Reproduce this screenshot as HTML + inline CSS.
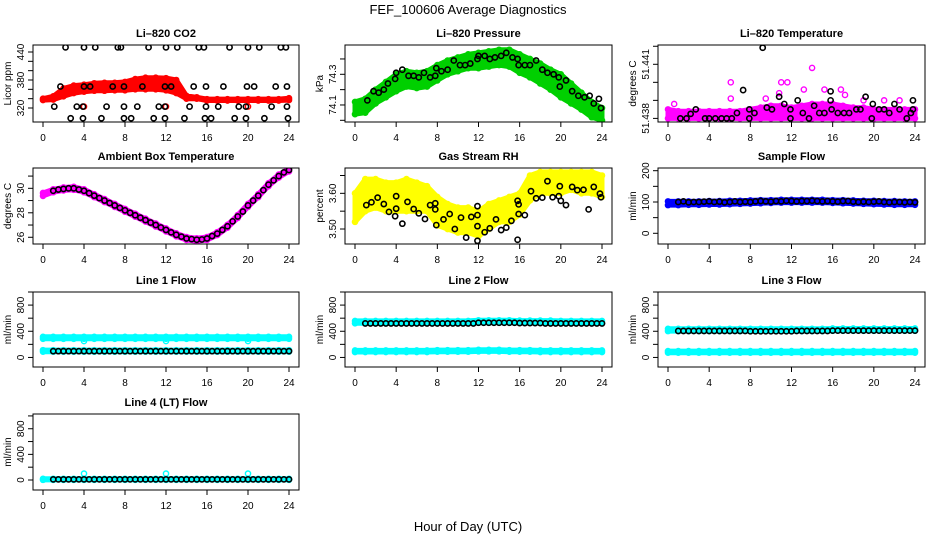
<!DOCTYPE html>
<html><head><meta charset="utf-8"><style>
html,body{margin:0;padding:0;background:#fff;width:936px;height:540px;overflow:hidden}
svg{display:block;font-family:"Liberation Sans",sans-serif}
</style></head><body>
<svg id="fig" width="936" height="540" viewBox="0 0 936 540">
<text x="468" y="14" text-anchor="middle" font-size="13">FEF_100606  Average Diagnostics</text>
<text x="468" y="531" text-anchor="middle" font-size="13">Hour of Day (UTC)</text>
</svg>
<script>
// ---------- data ----------
const hrs=[0,1,2,3,4,5,6,7,8,9,10,11,12,13,14,15,16,17,18,19,20,21,22,23,24];
const xTicks=[0,4,8,12,16,20,24];
// CO2
const co2Lo=[337,338,345,352,355,357,357,358,358,360,360,360,358,352,340,340,336,336,336,336,336,336,336,336,337];
const co2Hi=[340,345,362,368,370,373,374,374,376,382,385,385,384,380,346,343,339,339,339,339,339,339,339,339,341];
const co2RedX=[4,12,20];
const co2RedY=[323,323,323];
const co2BlkX=[2.2,4,5.1,7.3,7.6,10.3,12,13.1,15.2,15.7,18.2,20,21.1,23.2,23.7,1.7,4,4.6,6.8,7.9,9.7,11.9,12.5,14.7,15.9,17.6,19.9,20.6,22.7,23.8,1.1,3.3,3.9,6.2,7.9,9.2,11.3,11.9,14.3,15.9,17.1,19.1,19.8,22.3,23.8,2.7,3.9,5.7,7.9,8.6,10.8,11.9,13.8,15.8,16.4,18.7,19.8,21.6,23.9];
const co2BlkY=[450,450,450,450,450,450,450,450,450,450,450,450,450,450,450,366,366,366,366,366,366,366,366,366,366,366,366,366,366,366,323,323,323,323,323,323,323,323,323,323,323,323,323,323,323,298,298,298,298,298,298,298,298,298,298,298,298,298,298];
// Pressure
const prLo=[74.04,74.05,74.11,74.15,74.19,74.22,74.21,74.22,74.26,74.30,74.32,74.34,74.34,74.35,74.36,74.35,74.31,74.28,74.24,74.20,74.15,74.11,74.07,74.02,74.00];
const prHi=[74.12,74.14,74.20,74.25,74.30,74.32,74.31,74.32,74.36,74.39,74.41,74.43,74.44,74.45,74.46,74.46,74.43,74.40,74.37,74.33,74.30,74.24,74.18,74.12,74.08];
const prBlkX=[1.2,1.8,2.3,2.8,3.2,3.9,4,4.6,5.2,5.7,6.2,6.7,7.3,7.8,7.9,8.4,9,9.6,10.2,10.7,11.2,11.9,12,12.6,13.1,13.6,14.2,14.7,15.3,15.8,15.9,16.5,17.0,17.6,18.2,18.7,19.3,19.8,19.9,20.5,21.1,21.7,22.3,22.8,23.2,23.7,23.9];
const prBlkY=[74.13,74.19,74.18,74.20,74.24,74.27,74.31,74.33,74.29,74.29,74.28,74.31,74.28,74.29,74.34,74.32,74.33,74.39,74.36,74.36,74.37,74.40,74.42,74.42,74.40,74.41,74.42,74.44,74.41,74.40,74.36,74.36,74.36,74.39,74.33,74.31,74.30,74.28,74.22,74.26,74.19,74.16,74.15,74.16,74.11,74.14,74.08];
// Li-820 temperature
const tLo=[51.4380,51.4380,51.4380,51.4380,51.4380,51.4380,51.4380,51.4380,51.4380,51.4380,51.4380,51.4380,51.4380,51.4380,51.4380,51.4380,51.4380,51.4380,51.4380,51.4380,51.4380,51.4380,51.4380,51.4380,51.4380];
const tHi=[51.4385,51.4384,51.4384,51.4384,51.4384,51.4384,51.4384,51.4384,51.4385,51.4386,51.4387,51.4387,51.4386,51.4387,51.4388,51.4388,51.4388,51.4387,51.4386,51.4386,51.4385,51.4385,51.4385,51.4385,51.4385];
const tMagX=[0.6,6.1,6.1,11,11.6,14,16.8,13.2,15.2,10.8,19,21,22.5,9.5,17.2];
const tMagY=[51.4388,51.4400,51.4391,51.4400,51.4400,51.4408,51.4396,51.4396,51.4396,51.4394,51.4390,51.4390,51.4390,51.4391,51.4393];
const tBlkX=[9.2,7.3,1.2,1.8,2.2,2.7,3.6,4,4.6,5.2,5.7,6.2,6.7,7.9,7.9,8.4,9.6,10.1,10.8,11.3,11.9,11.9,12.6,13.1,13.7,14.2,14.7,15.2,15.8,15.8,15.9,16.5,17.1,17.6,18.3,18.7,19.2,19.8,19.9,20.5,21.0,21.5,22.0,22.5,23.2,23.6,23.8,23.8];
const tBlkY=[51.44192,51.43957,51.4380,51.4380,51.43825,51.4385,51.4380,51.4380,51.4380,51.4380,51.4380,51.4380,51.4383,51.4380,51.4385,51.4383,51.4386,51.4385,51.4392,51.4388,51.4380,51.4385,51.4390,51.4383,51.4380,51.4387,51.4383,51.4383,51.4390,51.4395,51.4385,51.4383,51.4383,51.4383,51.4385,51.4385,51.4392,51.4380,51.4388,51.4385,51.4385,51.4383,51.4388,51.4385,51.4380,51.4383,51.4385,51.4390];
// Ambient box temperature
const ambCurve=[29.5,29.8,29.95,30.0,29.8,29.4,29.0,28.6,28.2,27.8,27.4,27.0,26.6,26.2,25.9,25.8,25.9,26.3,26.9,27.7,28.6,29.4,30.3,31.0,31.5];
const ambBlk=[29.8,29.9,29.95,30.0,30.0,29.9,29.8,29.6,29.4,29.2,29.0,28.8,28.6,28.4,28.2,28.0,27.8,27.6,27.4,27.2,27.0,26.8,26.6,26.4,26.2,26.05,25.9,25.85,25.8,25.82,25.9,26.1,26.3,26.6,26.9,27.3,27.7,28.1,28.6,29.0,29.4,29.85,30.3,30.65,31.0,31.3,31.5];
// Gas stream RH
const rhLo=[3.52,3.55,3.56,3.55,3.55,3.55,3.55,3.55,3.51,3.50,3.49,3.49,3.48,3.50,3.52,3.52,3.54,3.58,3.60,3.60,3.60,3.61,3.60,3.60,3.59];
const rhHi=[3.60,3.64,3.64,3.63,3.63,3.64,3.63,3.62,3.59,3.57,3.56,3.56,3.55,3.57,3.58,3.59,3.60,3.65,3.66,3.66,3.66,3.66,3.66,3.66,3.65];
const rhBlkX=[1.1,1.6,2.2,2.8,3.3,3.9,4,4,4.6,5.1,5.7,6.2,6.8,7.3,7.8,7.8,7.9,8.6,9.2,9.7,10.3,10.8,11.3,11.9,11.9,11.9,11.9,12.6,13.1,13.7,14.2,14.7,15.2,15.8,15.8,15.9,15.9,16.5,17.1,17.6,18.2,18.7,19.2,19.8,19.9,20,20.5,21.1,21.6,22.2,22.7,23.2,23.8,23.9];
const rhBlkY=[3.567,3.575,3.588,3.570,3.548,3.536,3.557,3.592,3.515,3.576,3.556,3.544,3.528,3.567,3.572,3.555,3.511,3.527,3.542,3.500,3.532,3.476,3.534,3.467,3.508,3.539,3.564,3.491,3.502,3.527,3.497,3.504,3.523,3.579,3.470,3.569,3.542,3.539,3.606,3.586,3.588,3.634,3.589,3.592,3.620,3.579,3.567,3.618,3.609,3.610,3.555,3.618,3.599,3.589];
// Sample flow
const sfLo=[90,90,91,91,92,92,93,94,95,96,97,98,98,98,98,98,97,96,95,94,93,92,91,91,91];
const sfHi=[102,102,102,102,103,103,104,104,105,106,106,107,107,107,107,107,106,106,105,104,104,103,103,102,102];
const sfBlk=[100,102,99,100,100,101,102,100,101,99,100,102,100,101,100,102,103,102,101,103,102,104,103,102,103,103,104,103,102,103,102,101,103,103,101,100,101,100,101,102,100,99,100,100,99,100,99];
// Line flows (cyan upper band, cyan lower band, black)
const l1Up=[300,300,300,300,300,300,300,300,300,300,300,300,300,300,300,300,300,300,300,300,300,300,300,300,300];
const l1Low=[100,100,100,100,100,100,100,100,100,100,100,100,100,100,100,100,100,100,100,100,100,100,100,100,100];
const l1Blk=[96,96,96,96,96,96,96,96,96,96,96,96,96,96,96,96,96,96,96,96,96,96,96,96,96,96,96,96,96,96,96,96,96,96,96,96,96,96,96,96,96,96,96,96,96,96,96];
const l2Up=[540,540,540,540,540,540,540,540,540,540,540,540,550,550,550,550,545,545,545,545,540,540,540,540,540];
const l2Low=[95,95,95,95,95,95,95,95,100,100,100,100,105,105,105,100,100,100,95,95,95,95,95,95,95];
const l2Blk=[520,520,520,520,520,520,520,520,520,520,520,520,520,520,520,520,520,520,520,520,520,520,530,530,530,530,530,530,530,530,525,525,525,525,525,520,520,520,520,520,520,520,520,520,520,520,520];
const l3Up=[420,420,420,420,420,420,420,420,420,420,420,420,420,420,420,420,425,425,425,425,425,425,425,425,425];
const l3Low=[85,85,85,85,85,85,85,85,85,85,85,85,85,85,85,85,85,85,85,85,85,85,85,85,85];
const l3Blk=[405,405,405,405,405,405,405,405,405,405,405,405,405,405,400,400,400,400,400,400,400,400,400,405,405,405,405,405,405,405,410,410,410,410,410,410,410,410,410,410,410,410,410,410,410,410,410];
const l4Base=[10,10,10,10,10,10,10,10,10,10,10,10,10,10,10,10,10,10,10,10,10,10,10,10,10];
const l4SpikeX=[4,12,20];
const l4SpikeY=[100,100,100];
const l4Blk=[10,10,10,10,10,10,10,10,10,10,10,10,10,10,10,10,10,10,10,10,10,10,10,10,10,10,10,10,10,10,10,10,10,10,10,10,10,10,10,10,10,10,10,10,10,10,10];

// ---------- drawing ----------
const NS='http://www.w3.org/2000/svg';
const svg=document.getElementById('fig');
const COLS=[[33,299],[345,612],[658,925]];
const ROWS=[[45,122],[168,244],[292,367],[414,490]];
function mk(tag,attrs,parent){const e=document.createElementNS(NS,tag);for(const k in attrs)e.setAttribute(k,attrs[k]);(parent||svg).appendChild(e);return e;}
function halfHours(n){const a=[];for(let i=0;i<n;i++)a.push(1+i*0.5);return a;}

function panel(cfg){
  const [l,r]=COLS[cfg.col],[t,b]=ROWS[cfg.row];
  const g=mk('g',{});
  
  
  const sx=h=>l+10+h/24*(r-l-20);
  const sy=v=>b-(v-cfg.dom[0])/(cfg.dom[1]-cfg.dom[0])*(b-t);
  const clip='c'+cfg.name;
  const cp=mk('clipPath',{id:clip},g);mk('rect',{x:l,y:t,width:r-l,height:b-t},cp);
  const data=mk('g',{'clip-path':'url(#'+clip+')'},g);
  // bands
  (cfg.bands||[]).forEach(bd=>{
    let d='';
    hrs.forEach((h,i)=>{d+=(i?'L':'M')+sx(h).toFixed(1)+','+sy(bd.hi[i]).toFixed(1);});
    for(let i=hrs.length-1;i>=0;i--)d+='L'+sx(hrs[i]).toFixed(1)+','+sy(bd.lo[i]).toFixed(1);
    const p=mk('path',{d:d+'Z',fill:bd.color,stroke:bd.color,'stroke-width':5,'stroke-linejoin':'round'},data);
    
    
    hrs.forEach((h,i)=>{
      [bd.lo[i],bd.hi[i]].forEach(v=>{
        const c=mk('circle',{cx:sx(h),cy:sy(v),r:2.6,fill:'none',stroke:bd.color,'stroke-width':1.4},data);
        
        
      });
    });
  });
  (cfg.pts||[]).forEach(ps=>{
    ps.x.forEach((h,i)=>{
      const c=mk('circle',{cx:sx(h),cy:sy(ps.y[i]),r:2.6,fill:'none',stroke:ps.color,'stroke-width':ps.w||1.4},data);
      
      
    });
  });
  // frame
  const fr=mk('rect',{x:l,y:t,width:r-l,height:b-t,fill:'none',stroke:'#000','stroke-width':1},g);
  
  
  // x axis
  xTicks.forEach(v=>{
    mk('line',{x1:sx(v),x2:sx(v),y1:b,y2:b+5,stroke:'#000'},g);
    if(cfg.xlabels!==false){
      const tx=mk('text',{x:sx(v),y:b+19,'text-anchor':'middle','font-size':10},g);
      tx.textContent=v;
      
      
    }
  });
  // y axis
  cfg.ticks.forEach(v=>{mk('line',{x1:l-5,x2:l,y1:sy(v),y2:sy(v),stroke:'#000'},g);});
  cfg.labels.forEach((lab,i)=>{
    const v=cfg.labelVals[i];
    const tx=mk('text',{x:0,y:0,'text-anchor':'middle','font-size':10,transform:'translate('+(l-9)+','+sy(v)+') rotate(-90)'},g);
    tx.textContent=lab;
    
    
  });
  const yt=mk('text',{x:0,y:0,'text-anchor':'middle','font-size':10,transform:'translate('+(l-22)+','+((t+b)/2)+') rotate(-90)'},g);
  yt.textContent=cfg.ylab;
  
  
  const tt=mk('text',{x:(l+r)/2,y:t-8,'text-anchor':'middle','font-size':11,'font-weight':'bold'},g);
  tt.textContent=cfg.title;
  
  
}
const HH=halfHours(47);
const flowTicks=[0,200,400,600,800,1000];
panel({name:'co2-panel',title:'Li\u2013820 CO2',ylab:'Licor ppm',col:0,row:0,dom:[290,455],
  ticks:[320,340,360,380,400,420,440],labels:['320','380','440'],labelVals:[320,380,440],
  bands:[{lo:co2Lo,hi:co2Hi,color:'#ff0000'}],
  pts:[{x:co2RedX,y:co2RedY,color:'#ff0000'},{x:co2BlkX,y:co2BlkY,color:'#000',w:1.6}]});
panel({name:'pressure-panel',title:'Li\u2013820 Pressure',ylab:'kPa',col:1,row:0,dom:[73.989,74.491],
  ticks:[74.0,74.1,74.2,74.3,74.4],labels:['74.1','74.3'],labelVals:[74.1,74.3],
  bands:[{lo:prLo,hi:prHi,color:'#00d000'}],
  pts:[{x:prBlkX,y:prBlkY,color:'#000',w:1.6}]});
panel({name:'li820-temp-panel',title:'Li\u2013820 Temperature',ylab:'degrees C',col:2,row:0,dom:[51.4378,51.44207],
  ticks:[51.438,51.439,51.440,51.441,51.442],labels:['51.438','51.441'],labelVals:[51.438,51.441],
  bands:[{lo:tLo,hi:tHi,color:'#ff00ff'}],
  pts:[{x:tMagX,y:tMagY,color:'#ff00ff'},{x:tBlkX,y:tBlkY,color:'#000',w:1.6}]});
panel({name:'ambient-temp-panel',title:'Ambient Box Temperature',ylab:'degrees C',col:0,row:1,dom:[25.45,31.66],
  ticks:[26,27,28,29,30,31],labels:['26','28','30'],labelVals:[26,28,30],
  bands:[{lo:ambCurve.map(v=>v-0.12),hi:ambCurve.map(v=>v+0.12),color:'#ff00ff'}],
  pts:[{x:HH,y:ambBlk,color:'#000',w:1.6}]});
panel({name:'gas-rh-panel',title:'Gas Stream RH',ylab:'percent',col:1,row:1,dom:[3.458,3.671],
  ticks:[3.50,3.55,3.60,3.65],labels:['3.50','3.60'],labelVals:[3.50,3.60],
  bands:[{lo:rhLo,hi:rhHi,color:'#ffff00'}],
  pts:[{x:rhBlkX,y:rhBlkY,color:'#000',w:1.6}]});
panel({name:'sample-flow-panel',title:'Sample Flow',ylab:'ml/min',col:2,row:1,dom:[-34.2,208.6],
  ticks:[0,50,100,150,200],labels:['0','100','200'],labelVals:[0,100,200],
  bands:[{lo:sfLo,hi:sfHi,color:'#0000ff'}],
  pts:[{x:HH,y:sfBlk,color:'#000',w:1.6}]});
function flowBand(arr,w){return {lo:arr.map(v=>v-w),hi:arr.map(v=>v+w),color:'#00ffff'};}
panel({name:'line1-flow-panel',title:'Line 1 Flow',ylab:'ml/min',col:0,row:2,dom:[-146,1000],
  ticks:flowTicks,labels:['0','400','800'],labelVals:[0,400,800],
  bands:[flowBand(l1Up,15),flowBand(l1Low,12)],
  pts:[{x:[4,12,20],y:[250,250,250],color:'#00ffff'},{x:HH,y:l1Blk,color:'#000',w:1.6}]});
panel({name:'line2-flow-panel',title:'Line 2 Flow',ylab:'ml/min',col:1,row:2,dom:[-146,1000],
  ticks:flowTicks,labels:['0','400','800'],labelVals:[0,400,800],
  bands:[flowBand(l2Up,18),flowBand(l2Low,12)],
  pts:[{x:HH,y:l2Blk,color:'#000',w:1.6}]});
panel({name:'line3-flow-panel',title:'Line 3 Flow',ylab:'ml/min',col:2,row:2,dom:[-146,1000],
  ticks:flowTicks,labels:['0','400','800'],labelVals:[0,400,800],
  bands:[flowBand(l3Up,18),flowBand(l3Low,12)],
  pts:[{x:HH,y:l3Blk,color:'#000',w:1.6}]});
panel({name:'line4-flow-panel',title:'Line 4 (LT) Flow',ylab:'ml/min',col:0,row:3,dom:[-156,1030],
  ticks:flowTicks,labels:['0','400','800'],labelVals:[0,400,800],
  bands:[flowBand(l4Base,8)],
  pts:[{x:l4SpikeX,y:l4SpikeY,color:'#00ffff'},{x:HH,y:l4Blk,color:'#000',w:1.6}]});
</script>
</body></html>
